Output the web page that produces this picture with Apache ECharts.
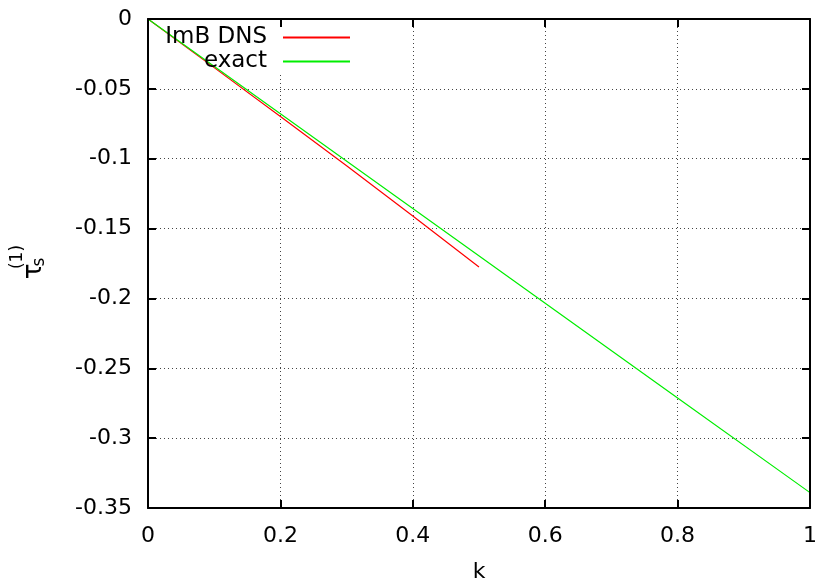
<!DOCTYPE html>
<html>
<head>
<meta charset="utf-8">
<script src="https://cdn.jsdelivr.net/npm/echarts@6/dist/echarts.min.js"></script>
<style>
  html, body { margin: 0; padding: 0; background: #fff; }
  #chart { width: 818px; height: 580px; }
</style>
</head>
<body>
<div id="chart"></div>
<script>
// Wave number k and the first-order stress coefficient
const dnsK      = [0, 0.1, 0.2, 0.3, 0.4, 0.5];
const dnsTau    = [0, -0.0348, -0.0698, -0.1050, -0.1410, -0.1775];
const exactK    = [0, 0.2, 0.4, 0.6, 0.8, 1.0];
const exactTau  = [0, -0.0678, -0.1356, -0.2034, -0.2712, -0.339];

// Axis ticks
const xTicks = [0, 0.2, 0.4, 0.6, 0.8, 1];
const xTickLabels = ['0', '0.2', '0.4', '0.6', '0.8', '1'];
const yTicks = [0, -0.05, -0.1, -0.15, -0.2, -0.25, -0.3, -0.35];
const yTickLabels = ['0', '-0.05', '-0.1', '-0.15', '-0.2', '-0.25', '-0.3', '-0.35'];

const seriesNames = ['ImB DNS', 'exact'];

const FONT = 'DejaVu Sans';
const FS = 22;
const pairs = (xs, ys) => xs.map((x, i) => [x, ys[i]]);
const lookup = (ticks, labels) => v => {
  const i = ticks.findIndex(t => Math.abs(t - v) < 1e-9);
  return i >= 0 ? labels[i] : '';
};

const frame = { show: true, onZero: false, lineStyle: { color: '#000', width: 2 } };
const ticksIn = { show: true, inside: true, length: 8, lineStyle: { color: '#000', width: 2 } };
const gridDots = { show: true, lineStyle: { color: '#444', width: 1, type: [1, 3] } };

const legendBase = {
  right: 468, padding: 0, align: 'right', icon: 'rect',
  itemWidth: 67, itemHeight: 2, selectedMode: false,
  textStyle: { color: '#000', fontFamily: FONT, fontSize: 23, padding: [0, 11, 0, 0] }
};

const chart = echarts.init(document.getElementById('chart'), null, { renderer: 'canvas' });
chart.setOption({
  animation: false,
  backgroundColor: '#fff',
  grid: { left: 148, right: 8, top: 19, bottom: 72, containLabel: false, outerBoundsMode: 'none' },
  xAxis: [
    {
      type: 'value', position: 'bottom', min: 0, max: 1, interval: 0.2,
      axisLine: frame, axisTick: ticksIn, splitLine: gridDots,
      axisLabel: { color: '#000', fontFamily: FONT, fontSize: FS, margin: 17,
                   formatter: lookup(xTicks, xTickLabels) },
      name: 'k', nameLocation: 'middle', nameGap: 53,
      nameTextStyle: { color: '#000', fontFamily: FONT, fontSize: FS }
    },
    {
      type: 'value', position: 'top', min: 0, max: 1, interval: 0.2, z: 5,
      axisLine: frame, axisTick: ticksIn, splitLine: { show: false },
      axisLabel: { show: false }
    }
  ],
  yAxis: [
    {
      type: 'value', position: 'left', min: -0.35, max: 0, interval: 0.05,
      axisLine: frame, axisTick: ticksIn, splitLine: gridDots,
      axisLabel: { color: '#000', fontFamily: FONT, fontSize: FS, margin: 16,
                   formatter: lookup(yTicks, yTickLabels) }
    },
    {
      type: 'value', position: 'right', min: -0.35, max: 0, interval: 0.05, z: 5,
      axisLine: frame, axisTick: ticksIn, splitLine: { show: false },
      axisLabel: { show: false }
    }
  ],
  legend: [
    Object.assign({ data: [seriesNames[0]], top: 26 }, legendBase),
    Object.assign({ data: [seriesNames[1]], top: 50 }, legendBase)
  ],
  graphic: [
    // opaque key area: hides the grid behind the key
    { type: 'rect', z: 1, silent: true,
      shape: { x: 152, y: 21, width: 206, height: 54 }, style: { fill: '#fff' } },
    // y-axis title: tau with subscript s and superscript (1), read bottom to top
    { type: 'group', x: 30, y: 265, rotation: Math.PI / 2, silent: true,
      children: [
        { type: 'text', x: -6.5, y: 4,
          style: { text: 'τ', fontFamily: FONT, fontSize: 26, fill: '#000', align: 'center', verticalAlign: 'middle' } },
        { type: 'text', x: 3, y: 10,
          style: { text: 's', fontFamily: FONT, fontSize: 17, fill: '#000', align: 'center', verticalAlign: 'middle' } },
        { type: 'text', x: 8, y: -12.5,
          style: { text: '(1)', fontFamily: FONT, fontSize: 17, fill: '#000', align: 'center', verticalAlign: 'middle' } }
      ] }
  ],
  series: [
    {
      name: seriesNames[0], type: 'line', symbol: 'none', silent: true, z: 3,
      data: pairs(dnsK, dnsTau),
      lineStyle: { color: '#ff0000', width: 1.2 }, itemStyle: { color: '#ff0000' }
    },
    {
      name: seriesNames[1], type: 'line', symbol: 'none', silent: true, z: 3,
      data: pairs(exactK, exactTau),
      lineStyle: { color: '#00ee00', width: 1.2 }, itemStyle: { color: '#00ee00' }
    }
  ]
});
</script>
</body>
</html>
